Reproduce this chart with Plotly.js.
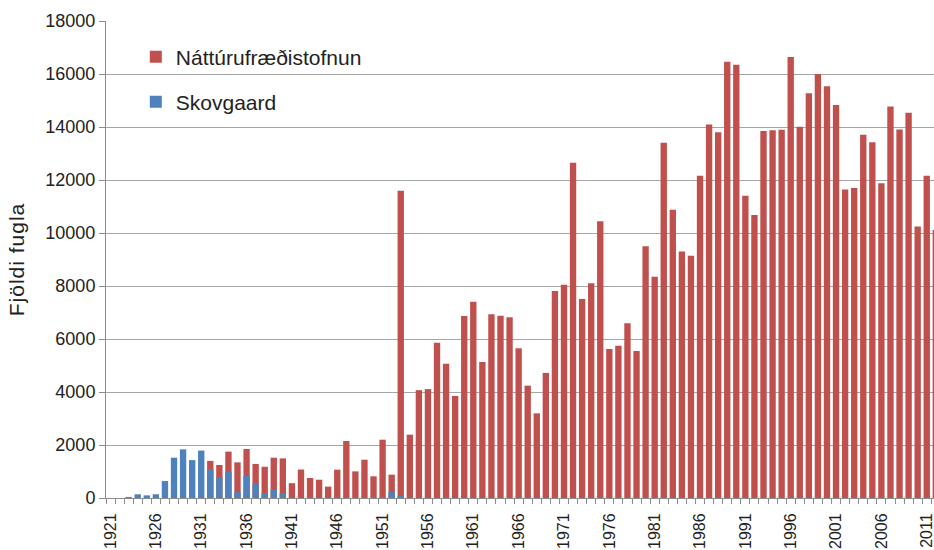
<!DOCTYPE html>
<html>
<head>
<meta charset="utf-8">
<script src="https://cdn.plot.ly/plotly-3.0.1.min.js"></script>
<style>
  html, body { margin: 0; padding: 0; background: #ffffff; }
  #chart { width: 934px; height: 550px; }
  #chart .ytitle { letter-spacing: 1px; }
</style>
</head>
<body>
<div id="chart"></div>
<script>
// Years (categories)
const years = [];
for (let y = 1921; y <= 2012; y++) years.push(y);

// Náttúrufræðistofnun counts (1921–2012)
const nattVals = [
  null, null, null, null, null, null, null, null, null, null,   // 1921-1930
  null, 1400, 1245, 1750, 1345, 1850, 1285, 1180, 1520, 1495,   // 1931-1940
  560, 1075, 755, 690, 430, 1070, 2150, 1005, 1445, 818,        // 1941-1950
  2200, 880, 11590, 2390, 4070, 4110, 5860, 5070, 3850, 6870,   // 1951-1960
  7410, 5130, 6930, 6875, 6820, 5650, 4240, 3195, 4720, 7810,   // 1961-1970
  8050, 12650, 7510, 8100, 10440, 5620, 5750, 6590, 5550, 9500, // 1971-1980
  8350, 13410, 10880, 9300, 9145, 12160, 14095, 13805, 16466, 16347, // 1981-1990
  11405, 10678, 13850, 13876, 13900, 16638, 14008, 15277, 16004, 15541, // 1991-2000
  14828, 11643, 11695, 13704, 13427, 11880, 14775, 13903, 14537, 10242, // 2001-2010
  12158, 10110                                                    // 2011-2012
];

// Skovgaard counts (1921–2012)
const skovVals = [
  null, null, 40, 140, 100, 140, 640, 1520, 1835, 1430,         // 1921-1930
  1790, 1095, 790, 995, 240, 830, 555, 190, 327, 190,           // 1931-1940
  null, null, null, null, null, null, null, null, null, null,   // 1941-1950
  30, 240, 75, null, null, null, null, null, null, null,        // 1951-1960
  null, null, null, null, null, null, null, null, null, null,   // 1961-1970
  null, null, null, null, null, null, null, null, null, null,   // 1971-1980
  null, null, null, null, null, null, null, null, null, null,   // 1981-1990
  null, null, null, null, null, null, null, null, null, null,   // 1991-2000
  null, null, null, null, null, null, null, null, null, null,   // 2001-2010
  null, null                                                    // 2011-2012
];

// Tick labels
const xTickVals = [1921, 1926, 1931, 1936, 1941, 1946, 1951, 1956, 1961, 1966,
                   1971, 1976, 1981, 1986, 1991, 1996, 2001, 2006, 2011];
const xTickText = xTickVals.map(String);
const yTickVals = [0, 2000, 4000, 6000, 8000, 10000, 12000, 14000, 16000, 18000];
const yTickText = yTickVals.map(String);

const nameNatt = 'Náttúrufræðistofnun';
const nameSkov = 'Skovgaard';
const colorNatt = '#C0504D';
const colorSkov = '#4F81BD';

const FONT = 'Liberation Sans, Arial, sans-serif';

const traces = [
  {
    type: 'bar', x: years, y: nattVals, name: nameNatt,
    marker: { color: colorNatt }, legend: 'legend', hoverinfo: 'x+y+name'
  },
  {
    type: 'bar', x: years, y: skovVals, name: nameSkov,
    marker: { color: colorSkov }, legend: 'legend2', hoverinfo: 'x+y+name'
  }
];

const layout = {
  width: 934, height: 550,
  margin: { l: 106, r: 0, t: 21, b: 52, pad: 0 },
  paper_bgcolor: '#ffffff', plot_bgcolor: '#ffffff',
  font: { family: FONT, color: '#222222' },
  barmode: 'overlay',
  bargap: 0.3,
  showlegend: true,
  legend: {
    x: 0.036, xanchor: 'left', y: 0.9245, yanchor: 'middle',
    font: { family: FONT, size: 21, color: '#222222' },
    bgcolor: 'rgba(0,0,0,0)', borderwidth: 0
  },
  legend2: {
    x: 0.036, xanchor: 'left', y: 0.830, yanchor: 'middle',
    font: { family: FONT, size: 21, color: '#222222' },
    bgcolor: 'rgba(0,0,0,0)', borderwidth: 0
  },
  xaxis: {
    type: 'linear',
    range: [1920.5, 2011.8],
    tickmode: 'array', tickvals: xTickVals, ticktext: xTickText,
    tickangle: -90,
    tickfont: { family: FONT, size: 16, color: '#222222' },
    ticks: '', ticklen: 0,
    ticklabelstandoff: 8,
    ticklabeloverflow: 'allow',
    minor: { tickmode: 'linear', tick0: 1920.5, dtick: 1, ticks: 'outside', ticklen: 5, tickcolor: '#8c8c8c', tickwidth: 1, showgrid: false },
    showgrid: false, zeroline: false,
    showline: true, linecolor: '#8c8c8c', linewidth: 1,
    fixedrange: true
  },
  yaxis: {
    range: [0, 18000],
    tickmode: 'array', tickvals: yTickVals, ticktext: yTickText,
    tickfont: { family: FONT, size: 18, color: '#222222' },
    ticks: 'outside', ticklen: 6, tickcolor: '#8c8c8c',
    showgrid: true, gridcolor: '#a6a6a6', gridwidth: 1,
    zeroline: false,
    showline: true, linecolor: '#8c8c8c', linewidth: 1,
    title: { text: 'Fjöldi fugla', font: { family: FONT, size: 21, color: '#222222' }, standoff: 14 },
    fixedrange: true
  }
};

Plotly.newPlot('chart', traces, layout, { displayModeBar: false, staticPlot: true });
</script>
</body>
</html>
